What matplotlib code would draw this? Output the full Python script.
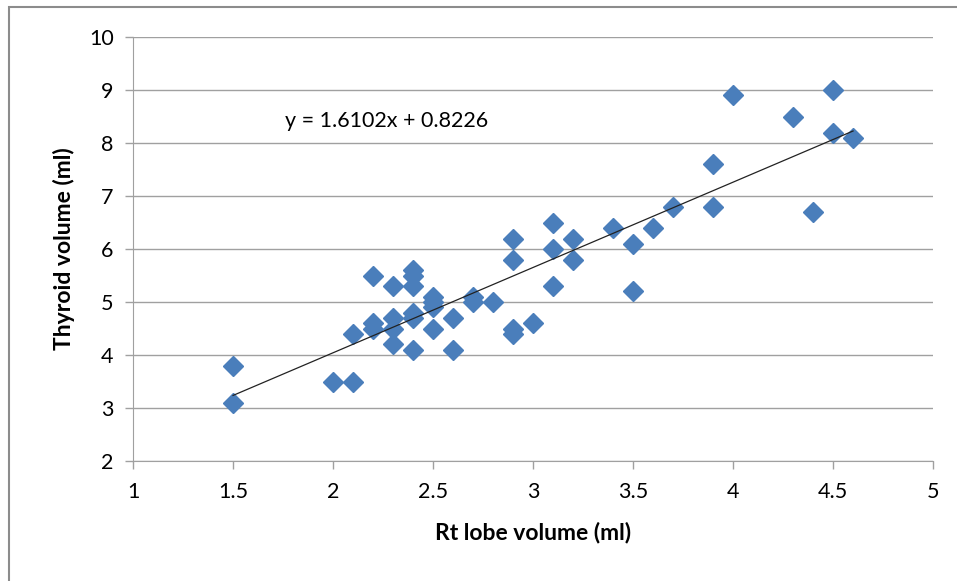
import numpy as np
import matplotlib
matplotlib.use("Agg")
import matplotlib.pyplot as plt
from matplotlib.patches import Rectangle

# datos
rt_lobe = [1.5, 1.5, 2.0, 2.1, 2.1, 2.2, 2.2, 2.2, 2.3, 2.3, 2.3, 2.3,
           2.4, 2.4, 2.4, 2.4, 2.4, 2.4, 2.5, 2.5, 2.5, 2.5, 2.6, 2.6,
           2.7, 2.7, 2.8, 2.9, 2.9, 2.9, 2.9, 3.0, 3.1, 3.1, 3.1, 3.2,
           3.2, 3.4, 3.5, 3.5, 3.6, 3.7, 3.9, 3.9, 4.0, 4.3, 4.4, 4.5,
           4.5, 4.6]
thyroid = [3.8, 3.1, 3.5, 3.5, 4.4, 5.5, 4.6, 4.5, 5.3, 4.7, 4.5, 4.2,
           5.6, 5.5, 5.3, 4.8, 4.7, 4.1, 5.1, 5.0, 4.9, 4.5, 4.7, 4.1,
           5.1, 5.0, 5.0, 6.2, 5.8, 4.5, 4.4, 4.6, 6.5, 6.0, 5.3, 6.2,
           5.8, 6.4, 6.1, 5.2, 6.4, 6.8, 7.6, 6.8, 8.9, 8.5, 6.7, 9.0,
           8.2, 8.1]

slope = 1.6102
intercept = 0.8226

x_ticks = [1, 1.5, 2, 2.5, 3, 3.5, 4, 4.5, 5]
y_ticks = [2, 3, 4, 5, 6, 7, 8, 9, 10]

plt.rcParams['font.family'] = ['Lato', 'DejaVu Sans']

fig = plt.figure(figsize=(9.57, 5.81), dpi=100)
ax = fig.add_axes([0.139, 0.2065, 0.836, 0.7295])

# borde exterior del grafico (recortado a derecha y abajo)
fig.patches.append(Rectangle((0.009, -0.05), 1.05, 1.038, transform=fig.transFigure,
                             fill=False, edgecolor='#8c8c8c', lw=1.5))

ax.plot(rt_lobe, thyroid, linestyle='none', marker='D', ms=10.5,
        color='#4a7ebb', markeredgecolor='#4a7ebb', zorder=3)

# linea de tendencia
xl = np.array([min(rt_lobe), max(rt_lobe)])
ax.plot(xl, slope * xl + intercept, color='#222222', lw=0.9, zorder=4)
ax.text(1.76, 8.42, f'y = {slope}x + {intercept}', fontsize=15.5, va='center', ha='left')

ax.set_xlim(1, 5)
ax.set_ylim(2, 10)
ax.set_xticks(x_ticks)
ax.set_xticklabels([f'{v:g}' for v in x_ticks])
ax.set_yticks(y_ticks)
ax.grid(axis='y', color='#a0a0a0', lw=1)
ax.set_axisbelow(True)
for s in ['top', 'right']:
    ax.spines[s].set_visible(False)
for s in ['left', 'bottom']:
    ax.spines[s].set_color('#a0a0a0')
ax.tick_params(axis='both', colors='#a0a0a0', labelcolor='black', labelsize=15.5,
               length=6, width=1)
ax.tick_params(axis='x', pad=9)
ax.tick_params(axis='y', pad=8)

ax.set_xlabel('Rt lobe volume (ml)', fontsize=16.5, fontweight='bold', labelpad=14)
ax.set_ylabel('Thyroid volume (ml)', fontsize=16.5, fontweight='bold', labelpad=10)

fig.savefig('out.png', dpi=100)
